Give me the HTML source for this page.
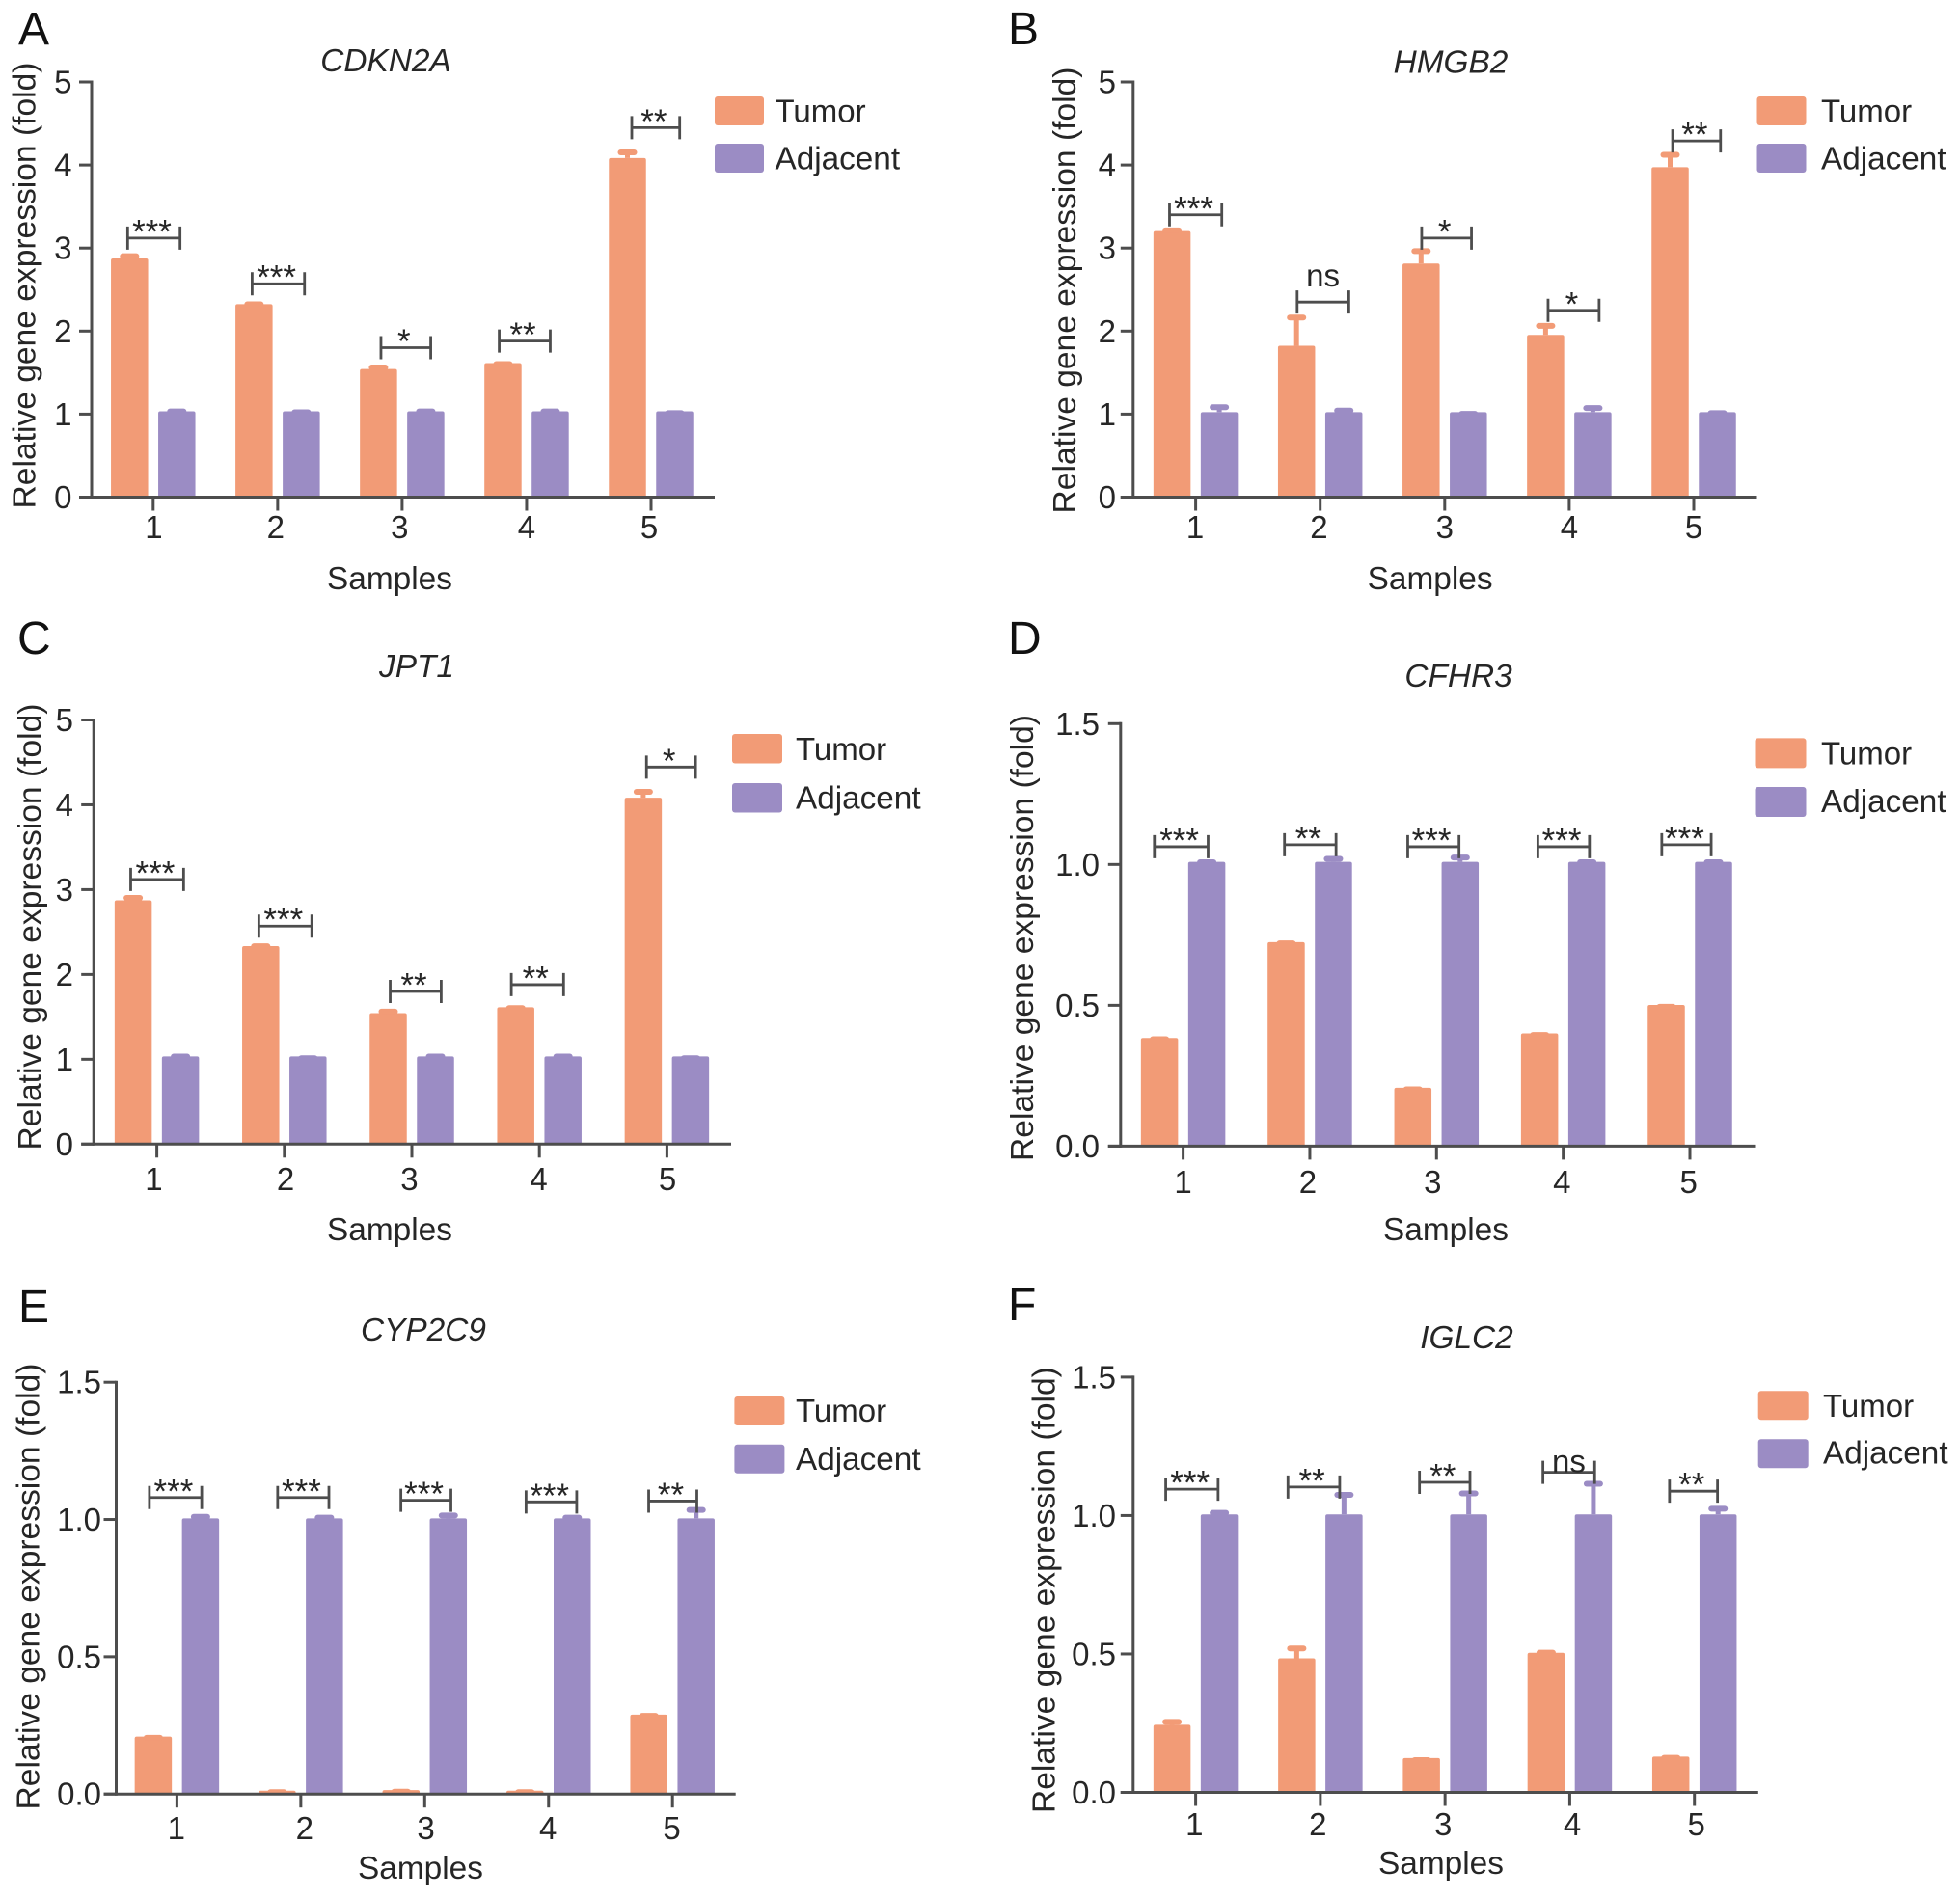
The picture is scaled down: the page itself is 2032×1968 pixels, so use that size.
<!DOCTYPE html>
<html lang="en">
<head>
<meta charset="utf-8">
<title>Relative gene expression in tumor and adjacent samples</title>
<style>
html,body{margin:0;padding:0;background:#fff}
svg{display:block}
text{font-family:"Liberation Sans",Arial,sans-serif;fill:#262626}
</style>
</head>
<body>
<svg id="figure" xmlns="http://www.w3.org/2000/svg" width="2032" height="1968" viewBox="0 0 2032 1968"></svg>
<script>
const samples = [1, 2, 3, 4, 5];
const ticksFold5 = [0, 1, 2, 3, 4, 5];
const ticksFold5Labels = ['0', '1', '2', '3', '4', '5'];
const ticksFold15 = [0, 0.5, 1, 1.5];
const ticksFold15Labels = ['0.0', '0.5', '1.0', '1.5'];

const aTumor = [2.86, 2.31, 1.53, 1.60, 4.07];
const aTumorErr = [2.92, 2.34, 1.58, 1.62, 4.17];
const aAdjacent = [1.02, 1.02, 1.02, 1.02, 1.02];
const aAdjacentErr = [1.05, 1.04, 1.05, 1.05, 1.03];
const aLevels = [3.12, 2.57, 1.80, 1.88, 4.45];
const aFrom = [0.795, 1.795, 2.83, 3.78, 4.845];
const aTo = [1.216, 2.216, 3.23, 4.19, 5.23];
const aSig = ['***', '***', '*', '**', '**'];

const bTumor = [3.19, 1.81, 2.80, 1.94, 3.96];
const bTumorErr = [3.23, 2.18, 2.98, 2.08, 4.14];
const bAdjacent = [1.01, 1.01, 1.01, 1.01, 1.01];
const bAdjacentErr = [1.10, 1.06, 1.02, 1.09, 1.03];
const bLevels = [3.40, 2.35, 3.12, 2.25, 4.29];
const bFrom = [0.79, 1.815, 2.815, 3.83, 4.83];
const bTo = [1.21, 2.23, 3.215, 4.24, 5.215];
const bSig = ['***', 'ns', '*', '*', '**'];

const cTumor = [2.86, 2.32, 1.53, 1.60, 4.07];
const cTumorErr = [2.92, 2.35, 1.58, 1.62, 4.17];
const cAdjacent = [1.02, 1.02, 1.02, 1.02, 1.02];
const cAdjacentErr = [1.05, 1.03, 1.05, 1.05, 1.03];
const cLevels = [3.12, 2.57, 1.80, 1.88, 4.445];
const cFrom = [0.795, 1.80, 2.83, 3.78, 4.84];
const cTo = [1.21, 2.215, 3.23, 4.19, 5.225];
const cSig = ['***', '***', '**', '**', '*'];

const dTumor = [0.38, 0.72, 0.203, 0.396, 0.497];
const dTumorErr = [0.385, 0.725, 0.207, 0.40, 0.50];
const dAdjacent = [1.005, 1.005, 1.005, 1.005, 1.005];
const dAdjacentErr = [1.013, 1.025, 1.03, 1.013, 1.013];
const dLevels = [1.063, 1.07, 1.063, 1.063, 1.07];
const dFrom = [0.773, 1.80, 2.773, 3.80, 4.778];
const dTo = [1.197, 2.207, 3.178, 4.207, 5.168];
const dSig = ['***', '**', '***', '***', '***'];

const eTumor = [0.205, 0.008, 0.01, 0.008, 0.285];
const eTumorErr = [0.21, 0.012, 0.014, 0.012, 0.29];
const eAdjacent = [1.0, 1.0, 1.0, 1.0, 1.0];
const eAdjacentErr = [1.015, 1.012, 1.02, 1.012, 1.04];
const eLevels = [1.08, 1.08, 1.07, 1.064, 1.067];
const eFrom = [0.778, 1.813, 2.808, 3.818, 4.808];
const eTo = [1.20, 2.227, 3.212, 4.227, 5.197];
const eSig = ['***', '***', '***', '***', '**'];

const fTumor = [0.24, 0.48, 0.12, 0.50, 0.125];
const fTumorErr = [0.26, 0.525, 0.122, 0.51, 0.13];
const fAdjacent = [1.0, 1.0, 1.0, 1.0, 1.0];
const fAdjacentErr = [1.015, 1.08, 1.085, 1.12, 1.03];
const fLevels = [1.095, 1.103, 1.12, 1.156, 1.088];
const fFrom = [0.76, 1.74, 2.795, 3.785, 4.80];
const fTo = [1.18, 2.155, 3.20, 4.20, 5.185];
const fSig = ['***', '**', '**', 'ns', '**'];

const TUMOR_COLOR = '#f29b76';
const ADJ_COLOR = '#9b8cc4';
const AXIS_COLOR = '#4d4d4d';
const svg = document.getElementById('figure');

function mk(tag, attrs, parent) {
  const el = document.createElementNS('http://www.w3.org/2000/svg', tag);
  for (const k in attrs) el.setAttribute(k, attrs[k]);
  parent.appendChild(el);
  return el;
}

const panels = [
  {key:'a', letter:'A', gene:'CDKN2A', tumor:aTumor, tumorErr:aTumorErr, adj:aAdjacent, adjErr:aAdjacentErr,
   levels:aLevels, from:aFrom, to:aTo, sig:aSig, yMax:5, ticks:ticksFold5, tickLabels:ticksFold5Labels, nsGap:16,
   geo:{left:95, right:741, top:85, base:515.5, first:158.8, last:675, yLabelRight:74.5, xLabelBase:558},
   xNudge:[0.6, -2, -2.6, 0, -2],
   letterPos:[19,46], titlePos:[400,74], xTitlePos:[404,611], yTitlePos:[36.5,296],
   legend:{x:741, w:51, h:30, y1:100, y2:149, tx:803.5, b1:126.5, b2:175.4}},
  {key:'b', letter:'B', gene:'HMGB2', tumor:bTumor, tumorErr:bTumorErr, adj:bAdjacent, adjErr:bAdjacentErr,
   levels:bLevels, from:bFrom, to:bTo, sig:bSig, yMax:5, ticks:ticksFold5, tickLabels:ticksFold5Labels, nsGap:16,
   geo:{left:1174.8, right:1821.5, top:85, base:515.5, first:1239.6, last:1756, yLabelRight:1157, xLabelBase:558},
   xNudge:[-0.6, -1.3, 0, 0, 0],
   letterPos:[1045,46], titlePos:[1504,75.5], xTitlePos:[1482.6,611], yTitlePos:[1115,301],
   legend:{x:1821.5, w:51, h:30, y1:100, y2:149, tx:1888, b1:126.5, b2:175.4}},
  {key:'c', letter:'C', gene:'JPT1', tumor:cTumor, tumorErr:cTumorErr, adj:cAdjacent, adjErr:cAdjacentErr,
   levels:cLevels, from:cFrom, to:cTo, sig:cSig, yMax:5, ticks:ticksFold5, tickLabels:ticksFold5Labels, nsGap:16,
   geo:{left:97.2, right:758, top:746.5, base:1186.3, first:162.6, last:691.4, yLabelRight:76, xLabelBase:1234},
   xNudge:[-3.2, 1.3, -2.6, -0.6, 0.6],
   letterPos:[18,678], titlePos:[432,702], xTitlePos:[404,1286], yTitlePos:[42,961],
   legend:{x:759, w:52, h:30.5, y1:761, y2:812, tx:825, b1:788, b2:838.7}},
  {key:'d', letter:'D', gene:'CFHR3', tumor:dTumor, tumorErr:dTumorErr, adj:dAdjacent, adjErr:dAdjacentErr,
   levels:dLevels, from:dFrom, to:dTo, sig:dSig, yMax:1.5, ticks:ticksFold15, tickLabels:ticksFold15Labels, nsGap:16,
   geo:{left:1161.8, right:1819.5, top:750.3, base:1188.4, first:1226.6, last:1752, yLabelRight:1140, xLabelBase:1237},
   xNudge:[0, -2, -4, -1.3, -1.3],
   letterPos:[1045,678], titlePos:[1512,712], xTitlePos:[1499,1286], yTitlePos:[1071,972.5],
   legend:{x:1819.5, w:53, h:31, y1:765.4, y2:816, tx:1888, b1:792.4, b2:842}},
  {key:'e', letter:'E', gene:'CYP2C9', tumor:eTumor, tumorErr:eTumorErr, adj:eAdjacent, adjErr:eAdjacentErr,
   levels:eLevels, from:eFrom, to:eTo, sig:eSig, yMax:1.5, ticks:ticksFold15, tickLabels:ticksFold15Labels, nsGap:16,
   geo:{left:120.5, right:762.7, top:1433.2, base:1860.2, first:183.4, last:697.2, yLabelRight:105, xLabelBase:1907},
   xNudge:[-0.6, 3.9, 1.3, -0.6, -0.6],
   letterPos:[19,1371], titlePos:[439,1390], xTitlePos:[436,1948], yTitlePos:[40.5,1645],
   legend:{x:761.4, w:52, h:30, y1:1448, y2:1497.7, tx:825, b1:1474, b2:1524}},
  {key:'f', letter:'F', gene:'IGLC2', tumor:fTumor, tumorErr:fTumorErr, adj:fAdjacent, adjErr:fAdjacentErr,
   levels:fLevels, from:fFrom, to:fTo, sig:fSig, yMax:1.5, ticks:ticksFold15, tickLabels:ticksFold15Labels, nsGap:0,
   geo:{left:1174.8, right:1822.8, top:1427.9, base:1858.5, first:1239.6, last:1756.7, yLabelRight:1157, xLabelBase:1903},
   xNudge:[-1.3, -2.6, -2, 2.6, 2],
   letterPos:[1045,1369], titlePos:[1520.5,1398], xTitlePos:[1494,1943], yTitlePos:[1093.5,1648.6],
   legend:{x:1822.7, w:52, h:30, y1:1442.3, y2:1492.3, tx:1890, b1:1469, b2:1517.6}}
];

function drawBar(g, cx, value, errTop, color, yScale, base, name) {
  const barW = 38.5, capW = 20, r = 2;
  const top = yScale(value) - 1.2;
  const bar = mk('path', {d:'M' + (cx - barW/2) + ' ' + base + 'V' + (top + r) + 'Q' + (cx - barW/2) + ' ' + top + ' ' + (cx - barW/2 + r) + ' ' + top + 'H' + (cx + barW/2 - r) + 'Q' + (cx + barW/2) + ' ' + top + ' ' + (cx + barW/2) + ' ' + (top + r) + 'V' + base + 'Z', fill:color}, g);
  
  
  const yErr = yScale(errTop);
  const stem = mk('line', {x1:cx, x2:cx, y1:top, y2:yErr, stroke:color, 'stroke-width':5}, g);
  
  
  const cap = mk('line', {x1:cx - capW/2 + 3, x2:cx + capW/2 - 3, y1:yErr + 1.5, y2:yErr + 1.5, stroke:color, 'stroke-width':6, 'stroke-linecap':'round'}, g);
  
  
}

function drawPanel(p) {
  const geo = p.geo;
  const g = mk('g', {}, svg);
  
  

  const yScale = v => geo.base - (v / p.yMax) * (geo.base - geo.top);
  const xScale = s => geo.first + (s - samples[0]) / (samples[samples.length - 1] - samples[0]) * (geo.last - geo.first);
  const barOffset = 24.5;

  const letter = mk('text', {x:p.letterPos[0], y:p.letterPos[1], 'font-size':48, style:'fill:#111'}, g);
  letter.textContent = p.letter;
  
  

  const title = mk('text', {x:p.titlePos[0], y:p.titlePos[1], 'font-size':33.4, 'font-style':'italic', 'text-anchor':'middle'}, g);
  title.textContent = p.gene;
  
  

  samples.forEach((s, i) => {
    drawBar(g, xScale(s) - barOffset, p.tumor[i], p.tumorErr[i], TUMOR_COLOR, yScale, geo.base, 'tumor-sample-' + s);
    drawBar(g, xScale(s) + barOffset, p.adj[i], p.adjErr[i], ADJ_COLOR, yScale, geo.base, 'adjacent-sample-' + s);
  });

  const yAxis = mk('line', {x1:geo.left, x2:geo.left, y1:geo.top - 1.5, y2:geo.base + 1.5, stroke:AXIS_COLOR, 'stroke-width':3}, g);
  
  
  const xAxis = mk('line', {x1:geo.left - 13, x2:geo.right, y1:geo.base, y2:geo.base, stroke:AXIS_COLOR, 'stroke-width':3}, g);
  
  

  p.ticks.forEach((t, i) => {
    const y = yScale(t);
    const tick = mk('line', {x1:geo.left - 13, x2:geo.left, y1:y, y2:y, stroke:AXIS_COLOR, 'stroke-width':3}, g);
    
    
    const label = mk('text', {x:geo.yLabelRight, y:y + 11.5, 'font-size':33, 'text-anchor':'end'}, g);
    label.textContent = p.tickLabels[i];
    
    
  });

  samples.forEach((s, i) => {
    const x = xScale(s);
    const tick = mk('line', {x1:x, x2:x, y1:geo.base, y2:geo.base + 14, stroke:AXIS_COLOR, 'stroke-width':3}, g);
    
    
    const label = mk('text', {x:x + p.xNudge[i], y:geo.xLabelBase, 'font-size':33, 'text-anchor':'middle'}, g);
    label.textContent = String(s);
    
    
  });

  const xTitle = mk('text', {x:p.xTitlePos[0], y:p.xTitlePos[1], 'font-size':33.4, 'text-anchor':'middle'}, g);
  xTitle.textContent = 'Samples';
  
  

  const yTitle = mk('text', {'font-size':33.6, 'text-anchor':'middle', transform:'translate(' + p.yTitlePos[0] + ' ' + p.yTitlePos[1] + ') rotate(-90)'}, g);
  yTitle.textContent = 'Relative gene expression (fold)';
  
  

  p.sig.forEach((sig, i) => {
    const y = yScale(p.levels[i]);
    const x1 = xScale(p.from[i]);
    const x2 = xScale(p.to[i]);
    const br = mk('path', {d:'M' + x1 + ' ' + (y - 12) + 'V' + (y + 12) + 'M' + x1 + ' ' + y + 'H' + x2 + 'M' + x2 + ' ' + (y - 12) + 'V' + (y + 12), fill:'none', stroke:AXIS_COLOR, 'stroke-width':2.8}, g);
    
    
    const isNs = sig === 'ns';
    const label = mk('text', {x:(x1 + x2) / 2 - (isNs ? 0 : 2), y:isNs ? y - p.nsGap : y + 5.5, 'font-size':isNs ? 33 : 35, 'text-anchor':'middle'}, g);
    label.textContent = sig;
    
    
  });

  const lg = p.legend;
  const legend = mk('g', {}, g);
  
  
  const sw1 = mk('rect', {x:lg.x, y:lg.y1, width:lg.w, height:lg.h, rx:3, fill:TUMOR_COLOR}, legend);
  
  
  const t1 = mk('text', {x:lg.tx, y:lg.b1, 'font-size':33}, legend);
  t1.textContent = 'Tumor';
  
  
  const sw2 = mk('rect', {x:lg.x, y:lg.y2, width:lg.w, height:lg.h, rx:3, fill:ADJ_COLOR}, legend);
  
  
  const t2 = mk('text', {x:lg.tx, y:lg.b2, 'font-size':33.3}, legend);
  t2.textContent = 'Adjacent';
  
  
}

panels.forEach(drawPanel);
</script>
</body>
</html>
